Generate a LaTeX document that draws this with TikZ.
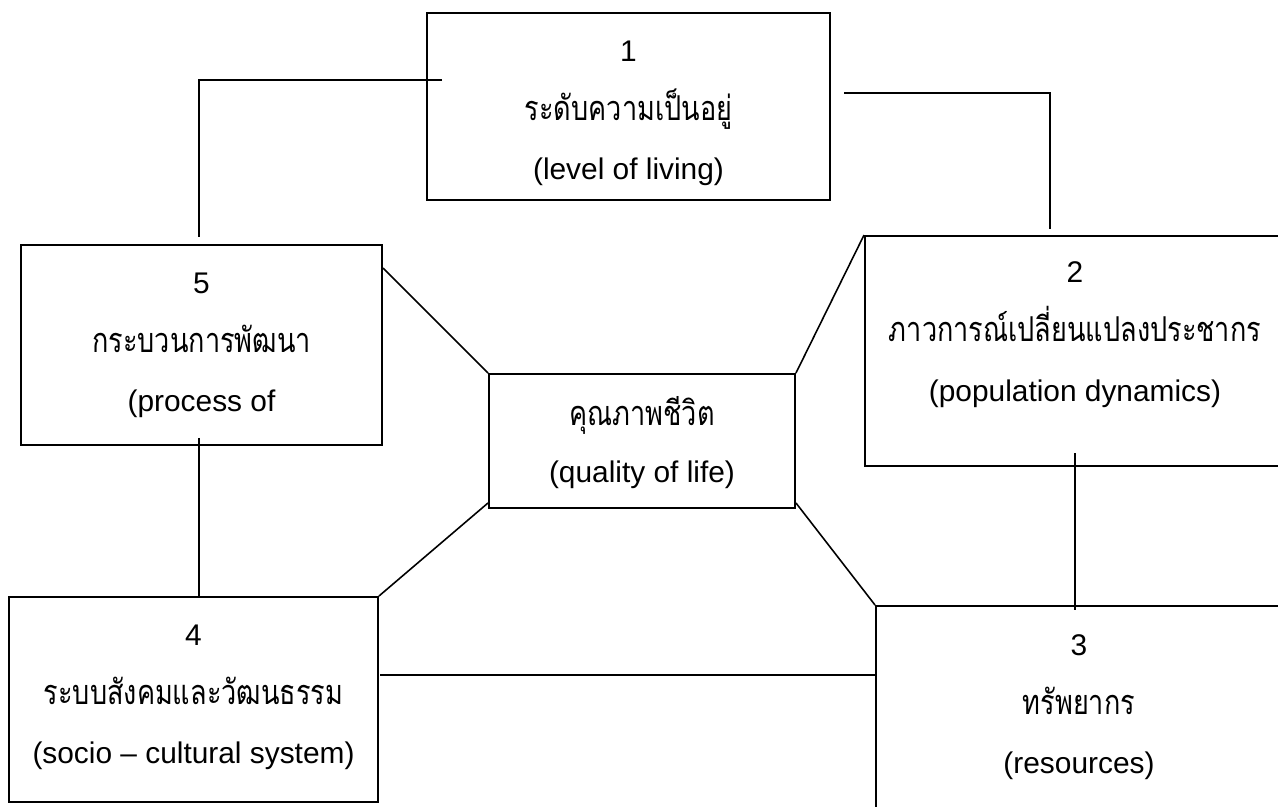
\documentclass[tikz,border=0pt]{standalone}
\usepackage{fontspec}
\setmainfont{Liberation Sans}
\newfontfamily\thaifont[Script=Thai, FakeStretch=0.79]{Loma}

\begin{document}
\begin{tikzpicture}[x=0.02cm, y=-0.02cm,
    % Define the style for the boxes
    frame/.style={draw, line width=1.1pt, inner sep=0pt},
    % Define the style for the text lines in the boxes
    line text/.style={inner sep=0pt, anchor=base},
    eng text/.style={line text, font=\fontsize{17}{20}\selectfont},
    thai text/.style={line text, font=\thaifont\fontsize{19.5}{22}\selectfont},
    % Define the style for the connecting lines
    link/.style={line width=0.9pt}
]

% One pixel of the page and the separation between text lines
\def\px{0.02cm}
\def\linesep{59}

\useasboundingbox (0,0) rectangle (1278,807);

% The six boxes
\node[frame, minimum width=403*\px, minimum height=187*\px] (level) at (628.5,106.5) {};
\node[frame, minimum width=420*\px, minimum height=230*\px] (pop) at (1075,351) {};
\node[frame, minimum width=406*\px, minimum height=212*\px] (res) at (1079,712) {};
\node[frame, minimum width=369*\px, minimum height=205*\px] (socio) at (193.5,699.5) {};
\node[frame, minimum width=361*\px, minimum height=200*\px] (proc) at (201.5,345) {};
\node[frame, minimum width=306*\px, minimum height=134*\px] (qol) at (642,441) {};

% Number, Thai name and English name in each outer box
\foreach \name/\cx/\cy/\num/\thai/\eng in {
    level/628.5/62/1/{ระดับความเป็นอยู่}/{(level of living)},
    pop/1075/283/2/{ภาวการณ์เปลี่ยนแปลงประชากร}/{(population dynamics)},
    res/1079/655/3/{ทรัพยากร}/{(resources)},
    socio/193.5/645/4/{ระบบสังคมและวัฒนธรรม}/{(socio – cultural system)},
    proc/201.5/294/5/{กระบวนการพัฒนา}/{(process of}}
{
    \node[eng text] (\name-num) at (\cx,\cy) {\num};
    \node[thai text] (\name-thai) at (\cx,{\cy+\linesep}) {\thai};
    \node[eng text] (\name-eng) at (\cx,{\cy+2*\linesep}) {\eng};
}

% The centre box has no number
\node[thai text] (qol-thai) at (642,425) {คุณภาพชีวิต};
\node[eng text] (qol-eng) at (642,482) {(quality of life)};

% Lines round the outer boxes
\coordinate (level-in) at (442,80);
\coordinate (proc-top) at (199,237);
\draw[link] (level-in) -| (proc-top);
\coordinate (level-out) at (844,93);
\coordinate (pop-top) at (1050,229);
\draw[link] (level-out) -| (pop-top);
\coordinate (proc-in) at (199,438);
\draw[link] (proc-in) -- (proc-in |- socio.north);
\coordinate (pop-in) at (1075,453);
\coordinate (res-in) at (1075,610);
\draw[link] (pop-in) -- (res-in);
\coordinate (socio-out) at (380,675);
\draw[link] (socio-out) -- (socio-out -| res.west);

% Lines from the centre box to the corners
\draw[link] ([yshift=-24*\px]proc.north east) -- (qol.north west);
\draw[link] (qol.north east) -- (pop.north west);
\draw[link] ([yshift=6*\px]qol.south west) -- (socio.north east);
\draw[link] ([yshift=6*\px]qol.south east) -- (res.north west);

\end{tikzpicture}
\end{document}
